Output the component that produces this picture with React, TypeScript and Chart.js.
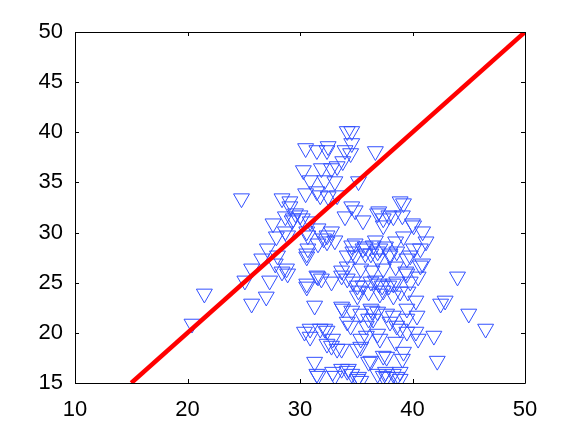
import React, { useEffect, useRef } from "react";
import { Chart, registerables } from "chart.js";

Chart.register(...registerables);

const xTicks = [10, 20, 30, 40, 50];
const yTicks = [15, 20, 25, 30, 35, 40, 45, 50];

const lineX = [15, 50];
const lineY = [15, 50];

const pointsX = [
  20.4, 21.5, 24.8, 25.1, 25.7, 25.7, 26.6, 27.0, 27.1, 27.3, 27.6, 27.9, 27.8, 28.0, 28.4, 28.7, 28.4, 28.7, 28.9, 29.1,
  29.4, 30.0, 30.9, 30.6, 31.6, 32.1, 28.9, 30.6, 30.6, 31.5, 31.9, 31.3, 30.9, 32.2, 30.5, 31.5, 29.1, 29.6, 30.2, 29.3,
  30.7, 32.8, 32.4, 33.1, 30.7, 28.8, 34.2, 34.6, 34.6, 30.5, 31.5, 32.5, 32.4, 34.0, 34.5, 36.7, 30.3, 31.9, 32.8, 33.3,
  33.8, 32.2, 30.9, 33.1, 35.2, 31.8, 32.5, 33.3, 34.6, 34.9, 35.6, 34.0, 37.0, 37.9, 37.4, 34.9, 35.8, 36.7, 37.6, 38.5,
  31.6, 32.4, 34.6, 35.6, 37.1, 39.2, 40.1, 30.6, 34.2, 34.9, 36.3, 36.9, 38.0, 39.5, 31.6, 32.8, 33.7, 34.2, 34.7, 35.6,
  36.7, 37.3, 38.3, 39.4, 39.8, 30.6, 35.2, 37.4, 38.9, 33.7, 36.3, 36.9, 38.3, 39.5, 34.2, 35.4, 36.1, 38.0, 38.6, 39.5,
  30.4, 30.9, 31.8, 32.4, 32.9, 33.3, 32.4, 35.4, 35.9, 37.1, 38.5, 39.5, 35.1, 36.3, 37.7, 39.2, 31.3, 31.5, 32.9, 34.3,
  34.6, 35.2, 37.4, 38.6, 35.4, 39.2, 39.1, 40.0, 40.9, 41.2, 40.7, 39.8, 40.9, 40.5, 39.5, 39.6, 40.3, 40.4, 40.3, 41.9,
  38.9, 44.0, 42.5, 42.9, 45.0, 46.5, 36.9, 38.3, 37.4, 36.5, 38.6, 40.7, 42.2, 39.1, 36.1, 38.9, 37.6, 31.6, 33.1, 35.1,
  37.7, 38.9, 38.9, 40.1, 40.5, 34.7, 35.8, 36.9, 38.0, 34.2, 35.4, 36.4, 37.4, 38.5, 35.1, 36.3, 37.0, 37.9, 38.6, 35.1,
  36.1, 37.1, 38.3, 33.8, 34.6, 36.4, 36.5, 37.7, 34.5, 35.9, 36.9, 35.4, 37.4, 34.2, 36.9, 38.3, 33.7, 33.7, 32.8, 33.7,
];

const pointsY = [
  20.9, 23.9, 33.4, 25.2, 22.9, 26.4, 27.4, 23.6, 28.4, 25.2, 30.9, 29.6, 26.9, 27.7, 33.4, 31.6, 26.1, 30.1, 25.9, 33.1,
  31.4, 31.7, 31.1, 30.1, 30.4, 29.4, 29.7, 27.9, 24.9, 25.7, 25.4, 22.7, 20.4, 20.4, 33.9, 34.1, 32.6, 31.9, 31.4, 31.2,
  29.7, 30.1, 29.7, 29.2, 28.4, 26.4, 40.1, 40.1, 38.9, 38.4, 38.2, 38.6, 38.2, 38.2, 37.9, 38.1, 36.2, 36.4, 36.4, 36.6,
  37.1, 35.2, 35.2, 35.1, 35.1, 33.7, 33.6, 33.7, 32.6, 32.2, 31.2, 31.6, 32.1, 31.7, 31.4, 28.9, 28.6, 29.2, 28.6, 29.1,
  28.9, 29.1, 28.7, 28.4, 28.4, 29.6, 28.4, 27.6, 27.7, 27.7, 27.9, 27.4, 27.7, 27.4, 25.6, 25.1, 25.7, 25.4, 25.1, 24.7,
  25.2, 24.7, 24.9, 26.1, 25.1, 24.6, 24.2, 24.2, 24.1, 22.6, 22.4, 22.1, 21.7, 22.4, 21.1, 21.9, 21.4, 21.1, 20.7, 21.4,
  20.1, 19.6, 20.4, 20.2, 19.4, 18.4, 18.9, 19.4, 19.7, 19.4, 19.1, 20.1, 18.4, 17.2, 17.6, 18.1, 17.1, 15.9, 16.1, 16.4,
  15.9, 15.6, 15.7, 15.6, 15.2, 32.9, 31.7, 30.9, 30.1, 29.1, 28.4, 27.7, 26.9, 25.6, 25.9, 24.1, 23.2, 21.7, 20.1, 19.7,
  20.4, 25.6, 22.9, 23.2, 21.9, 20.4, 31.9, 31.6, 30.7, 28.7, 28.1, 26.7, 17.2, 17.4, 17.1, 16.1, 16.1, 15.7, 15.7, 15.4,
  15.6, 15.4, 33.1, 30.7, 19.4, 28.1, 27.9, 28.1, 27.9, 26.6, 26.4, 26.2, 26.4, 26.6, 24.7, 25.1, 24.9, 24.7, 25.1, 23.7,
  24.1, 23.9, 23.7, 22.4, 22.2, 22.2, 21.4, 21.9, 20.7, 20.7, 19.9, 18.6, 17.7, 16.2, 15.9, 15.9, 18.4, 26.2, 18.7, 16.4,
];

const FONT = "'Liberation Sans', Arial, Helvetica, sans-serif";

const boxPlugin = {
  id: "matlabBox",
  afterDraw(chart: any) {
    const { ctx, chartArea, scales } = chart;
    const { left, right, top, bottom } = chartArea;
    ctx.save();
    ctx.strokeStyle = "#000";
    ctx.lineWidth = 1;
    ctx.beginPath();
    ctx.rect(Math.round(left) + 0.5, Math.round(top) + 0.5, Math.round(right - left), Math.round(bottom - top));
    ctx.stroke();
    const tl = 4;
    ctx.beginPath();
    xTicks.forEach((v) => {
      const px = Math.round(scales.x.getPixelForValue(v)) + 0.5;
      ctx.moveTo(px, bottom);
      ctx.lineTo(px, bottom - tl);
      ctx.moveTo(px, top);
      ctx.lineTo(px, top + tl);
    });
    yTicks.forEach((v) => {
      const py = Math.round(scales.y.getPixelForValue(v)) + 0.5;
      ctx.moveTo(left, py);
      ctx.lineTo(left + tl, py);
      ctx.moveTo(right, py);
      ctx.lineTo(right - tl, py);
    });
    ctx.stroke();
    ctx.restore();
  },
};

export default function App() {
  const ref = useRef<HTMLCanvasElement | null>(null);

  useEffect(() => {
    if (!ref.current) return;
    const scatterData = pointsX.map((x, i) => ({ x, y: pointsY[i] }));
    const lineData = lineX.map((x, i) => ({ x, y: lineY[i] }));
    const chart = new Chart(ref.current, {
      type: "scatter",
      data: {
        datasets: [
          {
            type: "line",
            data: lineData,
            borderColor: "#ff0000",
            borderWidth: 4.5,
            pointRadius: 0,
            fill: false,
            order: 0,
          } as any,
          {
            type: "scatter",
            data: scatterData,
            pointStyle: "triangle",
            rotation: 180,
            pointRadius: 9.2,
            pointBorderWidth: 1,
            borderColor: "rgb(50,80,255)",
            backgroundColor: "rgba(0,0,0,0)",
            order: 1,
          } as any,
        ],
      },
      options: {
        animation: false,
        responsive: false,
        events: [],
        layout: { padding: { left: 0, top: 32, right: 54, bottom: 0 } },
        plugins: { legend: { display: false }, tooltip: { enabled: false } },
        scales: {
          x: {
            type: "linear",
            min: 10,
            max: 50,
            grid: { display: false },
            border: { display: false },
            afterFit: (s: any) => {
              s.height = 48;
            },
            afterBuildTicks: (s: any) => {
              s.ticks = xTicks.map((v) => ({ value: v }));
            },
            ticks: {
              padding: 6,
              color: "#000",
              font: { family: FONT, size: 22 },
              maxRotation: 0,
              autoSkip: false,
            },
          },
          y: {
            type: "linear",
            min: 15,
            max: 50,
            grid: { display: false },
            border: { display: false },
            afterFit: (s: any) => {
              s.width = 75;
            },
            afterBuildTicks: (s: any) => {
              s.ticks = yTicks.map((v) => ({ value: v }));
            },
            ticks: {
              padding: 4,
              color: "#000",
              font: { family: FONT, size: 22 },
              autoSkip: false,
            },
          },
        },
      },
      plugins: [boxPlugin],
    });
    return () => chart.destroy();
  }, []);

  return (
    <div style={{ position: "absolute", left: 0, top: 0, width: 579, height: 431, background: "#fff" }}>
      <canvas ref={ref} width={579} height={431} style={{ width: 579, height: 431 }} />
    </div>
  );
}
